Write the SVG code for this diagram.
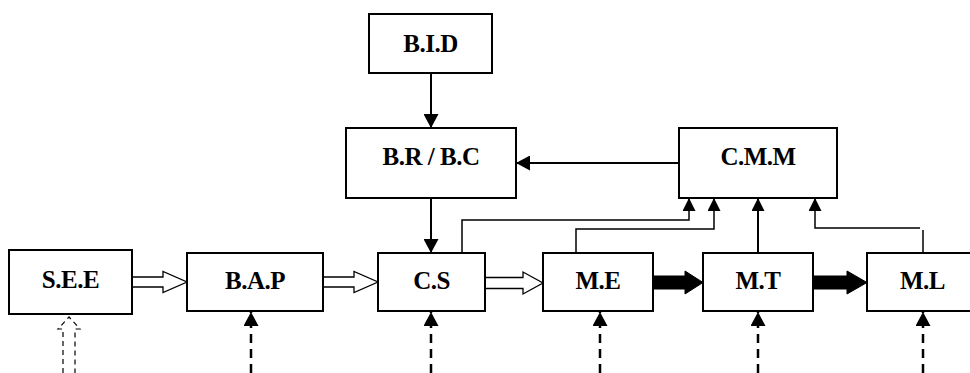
<svg xmlns="http://www.w3.org/2000/svg" width="970" height="373" viewBox="0 0 970 373">
<style>
.box{fill:#fff;stroke:#000;stroke-width:2}
.lbl{font-family:"Liberation Serif","Times New Roman",serif;font-weight:bold;font-size:25px;letter-spacing:-0.5px;fill:#000;text-anchor:middle}
.ln{fill:none;stroke:#000;stroke-width:2}
.thin{fill:none;stroke:#000;stroke-width:1.5}
.dash{fill:none;stroke:#000;stroke-width:2.5;stroke-dasharray:9,6}
.hollow{fill:#fff;stroke:#000;stroke-width:1.3}
.solid{fill:#000;stroke:#000;stroke-width:1}
.ddash{fill:none;stroke:#000;stroke-width:1.2;stroke-dasharray:5,4}
</style>
<defs>
<marker id="tri" markerUnits="userSpaceOnUse" markerWidth="15" markerHeight="15" refX="14" refY="7.5" orient="auto" viewBox="0 0 15 15">
<path d="M0,0 L14,7.5 L0,15 z" fill="#000"/>
</marker>
<marker id="triS" markerUnits="userSpaceOnUse" markerWidth="13" markerHeight="13" refX="13" refY="6.5" orient="auto" viewBox="0 0 13 13">
<path d="M0,0 L13,6.5 L0,13 z" fill="#000"/>
</marker>
</defs>
<g id="connectors">
<line class="ln" x1="431" y1="73" x2="431" y2="128" marker-end="url(#tri)"/>
<line class="ln" x1="431" y1="198" x2="431" y2="253" marker-end="url(#tri)"/>
<line class="ln" x1="679" y1="163" x2="516" y2="163" marker-end="url(#tri)"/>
<polyline class="thin" points="462,253 462,220 689,220 689,198" marker-end="url(#triS)"/>
<polyline class="thin" points="576,253 576,229 714,229 714,198" marker-end="url(#triS)"/>
<line class="ln" x1="758" y1="253" x2="758" y2="198" marker-end="url(#triS)"/>
<line class="thin" x1="923" y1="253" x2="923" y2="230"/>
<polyline class="thin" points="920,228 815,228 815,198" marker-end="url(#triS)"/>
<polygon class="hollow" points="132,277 163,277 163,271.5 187,282 163,292.5 163,287 132,287"/>
<polygon class="hollow" points="323,277 354,277 354,271.5 378,282 354,292.5 354,287 323,287"/>
<polygon class="hollow" points="485,277.5 523,277.5 523,272 543,283 523,294 523,288.5 485,288.5"/>
<polygon class="solid" points="653,276 685,276 685,271 703,282.5 685,294 685,289 653,289"/>
<polygon class="solid" points="813,276 847,276 847,271 867,282.5 847,294 847,289 813,289"/>
<line class="dash" x1="251" y1="373" x2="251" y2="312" marker-end="url(#tri)"/>
<line class="dash" x1="431" y1="373" x2="431" y2="312" marker-end="url(#tri)"/>
<line class="dash" x1="600" y1="373" x2="600" y2="312" marker-end="url(#tri)"/>
<line class="dash" x1="758" y1="373" x2="758" y2="312" marker-end="url(#tri)"/>
<line class="dash" x1="923" y1="373" x2="923" y2="312" marker-end="url(#tri)"/>
<path class="ddash" d="M63,373 V329 H58 L69,317 L80,329 H75 V373"/>
</g>
<g id="BID"><rect class="box" x="369" y="14" width="123" height="59"/><text class="lbl" x="430.5" y="51.5">B.I.D</text></g>
<g id="BRBC"><rect class="box" x="346" y="128" width="170" height="70"/><text class="lbl" x="431" y="165">B.R / B.C</text></g>
<g id="CMM"><rect class="box" x="679" y="128" width="158" height="70"/><text class="lbl" x="758" y="165">C.M.M</text></g>
<g id="SEE"><rect class="box" x="9" y="250" width="123" height="64"/><text class="lbl" x="70.5" y="287.5">S.E.E</text></g>
<g id="BAP"><rect class="box" x="187" y="253" width="136" height="58"/><text class="lbl" x="255" y="289">B.A.P</text></g>
<g id="CS"><rect class="box" x="378" y="253" width="107" height="58"/><text class="lbl" x="431.5" y="289">C.S</text></g>
<g id="ME"><rect class="box" x="543" y="253" width="110" height="58"/><text class="lbl" x="598" y="289">M.E</text></g>
<g id="MT"><rect class="box" x="703" y="253" width="110" height="58"/><text class="lbl" x="758" y="289">M.T</text></g>
<g id="ML"><rect class="box" x="867" y="253" width="115" height="58"/><text class="lbl" x="922.5" y="289">M.L</text></g>
</svg>
